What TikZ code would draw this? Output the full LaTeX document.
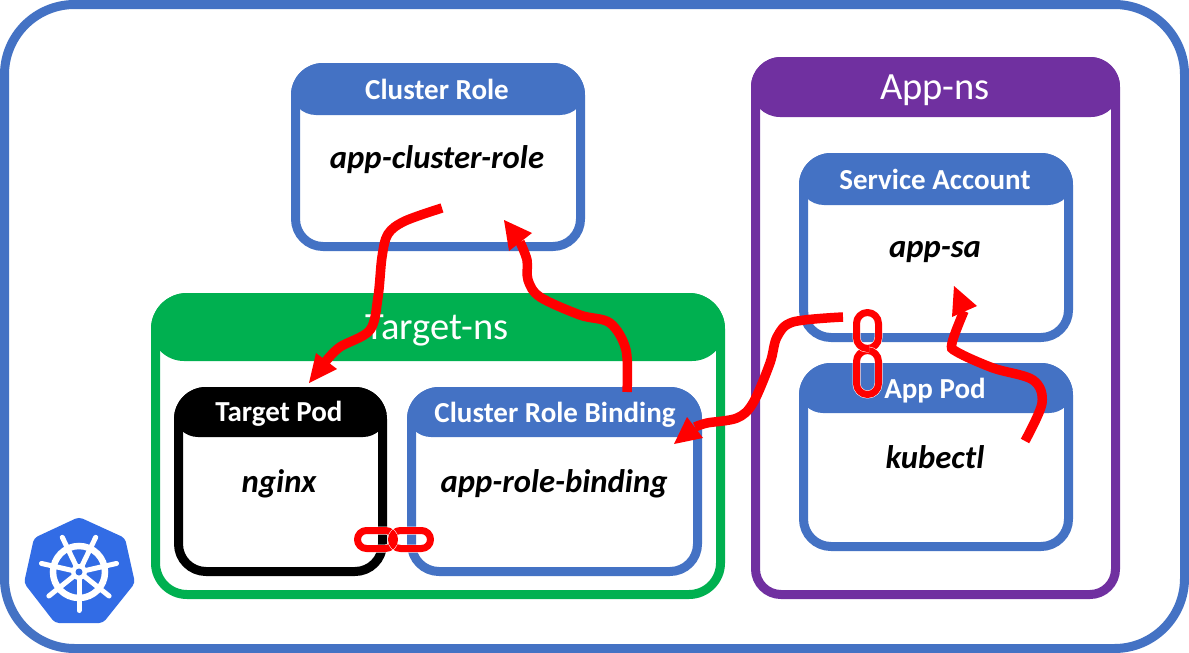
\documentclass[tikz,border=0pt]{standalone}
\usepackage{fontspec}
\setmainfont{Carlito}
\definecolor{kblue}{HTML}{4472C4}
\definecolor{kgreen}{HTML}{00B050}
\definecolor{kpurple}{HTML}{7030A0}
\definecolor{khelm}{HTML}{326CE5}
\definecolor{kred}{HTML}{FF0000}
\newcommand\cardbox[8]{%
  \pgfmathsetmacro\cw{#5-#3-9}\pgfmathsetmacro\ch{#6-#4-9}%
  \pgfmathsetmacro\cx{(#3+#5)/2}\pgfmathsetmacro\cy{(#4+#6)/2}%
  \pgfmathsetmacro\cr{#8-4.5}\pgfmathsetmacro\hm{#4-60}%
  \pgfmathsetmacro\hr{min((#7-#4)/2-1,#8)}%
  \node[framebox,draw=#2,minimum width=\cw pt,minimum height=\ch pt,rounded corners=\cr pt] (#1) at (\cx,\cy) {};
  \begin{scope}
    \clip[rounded corners=#8 pt] (#3,#4) rectangle (#5,#6);
    \fill[#2,rounded corners=\hr pt] (#3,\hm) rectangle (#5,#7);
  \end{scope}
}
\newcommand\chainlink[6]{% name x0 y0 x1 y1 radius
  \pgfmathsetmacro\lw{#4-#2-7}\pgfmathsetmacro\lh{#5-#3-7}%
  \pgfmathsetmacro\lx{(#2+#4)/2}\pgfmathsetmacro\ly{(#3+#5)/2}%
  \node[linkhalo,minimum width=\lw pt,minimum height=\lh pt,rounded corners=#6 pt] at (\lx,\ly) {};
  \node[linkring,minimum width=\lw pt,minimum height=\lh pt,rounded corners=#6 pt] (#1) at (\lx,\ly) {};
}
\tikzset{
  framebox/.style={rectangle,fill=white,line width=9pt,line join=round,inner sep=0pt},
  title/.style={text=white,inner sep=0pt,font=\fontsize{29}{32}\selectfont\bfseries},
  nstitle/.style={text=white,inner sep=0pt,font=\fontsize{38.5}{42}\selectfont},
  bodytext/.style={text=black,inner sep=0pt,font=\fontsize{32.7}{36}\selectfont\bfseries\itshape},
  flow/.style={draw=kred,line width=9.5pt},
  flowhead/.style={fill=kred},
  linkring/.style={rectangle,draw=kred,line width=7pt,line join=round,inner sep=0pt},
  linkhalo/.style={rectangle,draw=white,line width=8pt,line join=round,inner sep=0pt},
}
\begin{document}
\begin{tikzpicture}[x=1pt,y=-1pt]
\useasboundingbox (0,0) rectangle (1189,653);
\node[framebox,draw=kblue,minimum width=1180pt,minimum height=644pt,rounded corners=70pt] (cluster) at (594.5,326.5) {};

\cardbox{rolecard}{kblue}{291}{63}{585}{251}{115}{32}
\node[title] (roletitle) at (437,89.5) {Cluster Role};
\node[bodytext] (rolebody) at (437,160) {app-cluster-role};

\cardbox{appns}{kpurple}{751}{57}{1120}{599}{117}{30}
\node[nstitle] (appnstitle) at (935,90) {App-ns};

\cardbox{sacard}{kblue}{799}{153}{1073}{342}{205}{32}
\node[title] (satitle) at (935,179.5) {Service Account};
\node[bodytext] (sabody) at (935,252.5) {app-sa};

\cardbox{podcard}{kblue}{799}{363}{1073}{551}{413}{32}
\node[title] (podtitle) at (935,390.5) {App Pod};
\node[bodytext] (podbody) at (935,457.5) {kubectl};

\cardbox{targetns}{kgreen}{151}{293}{725}{599}{361}{36}
\node[nstitle] (targetnstitle) at (437,330) {Target-ns};

\cardbox{targetpod}{black}{174}{387}{387}{576}{437}{32}
\node[title] (tptitle) at (279,413.5) {Target Pod};
\node[bodytext] (tpbody) at (279,484) {nginx};

\cardbox{bindcard}{kblue}{407}{387}{702}{576}{437}{32}
\node[title] (bindtitle) at (555,414.5) {Cluster Role Binding};
\node[bodytext] (bindbody) at (554,484) {app-role-binding};

% helm logo
\coordinate (helm) at (79,572);
\fill[khelm,rounded corners=4pt] (79,517) -- (125,538) -- (135,583) -- (103,623) -- (55,623) -- (24,583) -- (34,538) -- cycle;
\draw[white,line width=6.5pt] (helm) circle (26pt);
\foreach \a in {0,...,6}{
  \draw[white,line width=5pt,line cap=round] (helm) -- ++({-90+\a*360/7}:38.5pt);
}
\fill[white] (helm) circle (8pt);
\fill[khelm] (helm) circle (3.5pt);

% chain links
\chainlink{linkA}{354}{527}{398}{552}{9}
\chainlink{linkB}{388}{527}{434}{552}{9}
\begin{scope}
\clip (393,520) rectangle (402,560);
\node[linkhalo,minimum width=37pt,minimum height=18pt,rounded corners=9pt] at (376,539.5) {};
\node[linkring,minimum width=37pt,minimum height=18pt,rounded corners=9pt] at (376,539.5) {};
\end{scope}
\chainlink{linkC}{853}{309}{882}{352}{11}
\chainlink{linkD}{853}{347}{882}{398}{11}
\begin{scope}
\clip (850,344) rectangle (869,356);
\node[linkhalo,minimum width=22pt,minimum height=36pt,rounded corners=11pt] at (867.5,330.5) {};
\node[linkring,minimum width=22pt,minimum height=36pt,rounded corners=11pt] at (867.5,330.5) {};
\end{scope}

% flows
\coordinate (f1s) at (442,208); \coordinate (f1e) at (309,383); \coordinate (f1b) at (326,361);
\coordinate (f2s) at (627,392); \coordinate (f2e) at (504,220); \coordinate (f2b) at (520,242);
\coordinate (f3s) at (843,317); \coordinate (f3e) at (674,444); \coordinate (f3b) at (695,427);
\coordinate (f4s) at (1025,441); \coordinate (f4e) at (954,286); \coordinate (f4b) at (964,311);
\draw[flow] plot[smooth,tension=0.55] coordinates {(f1s) (405,221) (388,234) (382,257) (378,297) (370,330) (340,347) (f1b)};
\fill[flowhead] (f1e) -- (316,353) -- (337,369) -- cycle;
\draw[flow] plot[smooth,tension=0.55] coordinates {(f2s) (626,350) (610,323) (580,315) (540,297) (528,280) (527,260) (f2b)};
\fill[flowhead] (f2e) -- (532,233) -- (509,251) -- cycle;
\draw[flow] plot[smooth,tension=0.55] coordinates {(f3s) (793,322) (777,337) (770,363) (753,403) (737,418) (707,423) (f3b)};
\fill[flowhead] (f3e) -- (687,417) -- (703,438) -- cycle;
\draw[flow] plot[smooth,tension=0.55] coordinates {(f4s) (1042,403) (1033,380) (993,368) (957,352) (952,343) (f4b)};
\fill[flowhead] (f4e) -- (977,306) -- (952,317) -- cycle;
\end{tikzpicture}
\end{document}
